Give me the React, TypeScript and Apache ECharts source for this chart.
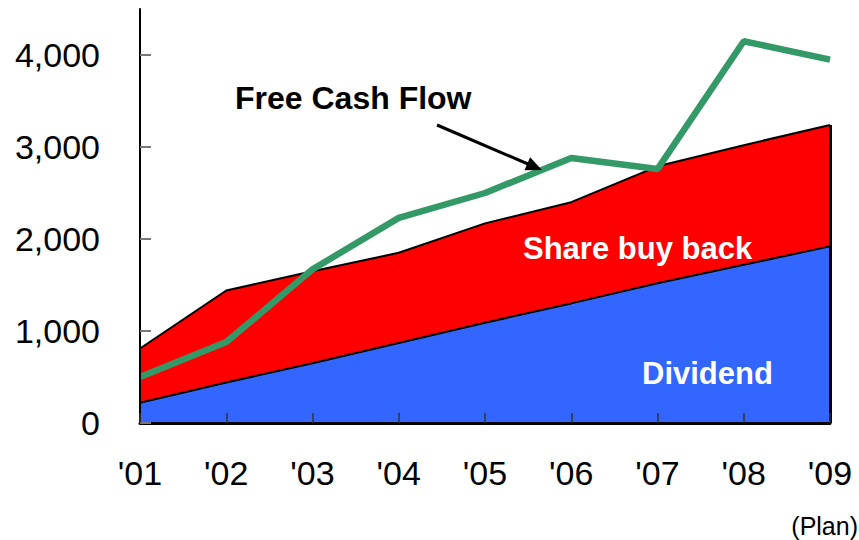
import React, { useEffect, useRef } from "react";
import * as echarts from "echarts";

const years = ["'01", "'02", "'03", "'04", "'05", "'06", "'07", "'08", "'09"];
const dividend = [220, 440, 650, 870, 1090, 1300, 1520, 1720, 1920];
const shareBuyBack = [590, 1000, 1000, 980, 1080, 1100, 1270, 1300, 1320];
const freeCashFlow = [500, 880, 1670, 2230, 2500, 2880, 2760, 4150, 3950];
const yTicks = [0, 1000, 2000, 3000, 4000];

const FONT = "Arial, 'Liberation Sans', Helvetica, sans-serif";

export default function App() {
  const ref = useRef<HTMLDivElement>(null);
  useEffect(() => {
    if (!ref.current) return;
    const chart = echarts.init(ref.current, null, { renderer: "svg" });
    const last = years.length - 1;
    const lastTotal = dividend[last] + shareBuyBack[last];
    chart.setOption({
      animation: false,
      backgroundColor: "#ffffff",
      grid: { left: 140, right: 29, top: 9, bottom: 117 },
      xAxis: {
        type: "category",
        data: years,
        boundaryGap: false,
        z: 10,
        axisLine: { show: true, lineStyle: { color: "#000", width: 3 } },
        axisTick: { show: true, inside: true, length: 10, lineStyle: { color: "#333", width: 1.5 } },
        axisLabel: { color: "#000", fontSize: 34, fontFamily: FONT, margin: 33 },
        splitLine: { show: false },
      },
      yAxis: {
        type: "value",
        min: 0,
        max: 4500,
        interval: 1000,
        z: 10,
        axisLine: { show: true, lineStyle: { color: "#000", width: 2 } },
        axisTick: { show: true, inside: true, length: 11, customValues: yTicks, lineStyle: { color: "#777", width: 2 } },
        axisLabel: {
          color: "#000",
          fontSize: 34,
          fontFamily: FONT,
          margin: 40,
          customValues: yTicks,
          formatter: (v: number) => v.toLocaleString("en-US"),
        },
        splitLine: { show: false },
      },
      series: [
        {
          name: "Dividend",
          type: "line",
          stack: "total",
          data: dividend,
          symbol: "none",
          lineStyle: { color: "#000", width: 2 },
          areaStyle: { color: "#3366FF", opacity: 1 },
          z: 2,
        },
        {
          name: "Share buy back",
          type: "line",
          stack: "total",
          data: shareBuyBack,
          symbol: "none",
          lineStyle: { color: "#000", width: 2 },
          areaStyle: { color: "#FF0000", opacity: 1 },
          z: 2,
          markLine: {
            silent: true,
            symbol: "none",
            label: { show: false },
            lineStyle: { color: "#000", width: 3, type: "solid" },
            data: [[{ coord: [years[last], 0] }, { coord: [years[last], lastTotal] }]],
          },
        },
        {
          name: "Free Cash Flow",
          type: "line",
          data: freeCashFlow,
          symbol: "none",
          lineStyle: { color: "#339966", width: 6.5 },
          z: 5,
        },
      ],
      graphic: [
        {
          type: "text",
          z: 20,
          style: { text: "Free Cash Flow", x: 235, y: 98, fontSize: 32, fontWeight: "bold", fontFamily: FONT, fill: "#000", verticalAlign: "middle", align: "left" },
        },
        {
          type: "line",
          z: 20,
          shape: { x1: 437, y1: 125, x2: 529, y2: 164.5 },
          style: { stroke: "#000", lineWidth: 3 },
        },
        {
          type: "polygon",
          z: 20,
          shape: { points: [[542, 170], [524.5, 170.2], [530.1, 157.2]] },
          style: { fill: "#000" },
        },
        {
          type: "text",
          z: 20,
          style: { text: "Share buy back", x: 523, y: 248, fontSize: 31, fontWeight: "bold", fontFamily: FONT, fill: "#fff", verticalAlign: "middle", align: "left" },
        },
        {
          type: "text",
          z: 20,
          style: { text: "Dividend", x: 642, y: 373, fontSize: 31, fontWeight: "bold", fontFamily: FONT, fill: "#fff", verticalAlign: "middle", align: "left" },
        },
        {
          type: "text",
          z: 20,
          style: { text: "(Plan)", x: 858, y: 526, fontSize: 25, fontFamily: FONT, fill: "#000", verticalAlign: "middle", align: "right" },
        },
      ],
    });
    return () => chart.dispose();
  }, []);
  return <div ref={ref} style={{ position: "fixed", left: 0, top: 0, width: 859, height: 540 }} />;
}
